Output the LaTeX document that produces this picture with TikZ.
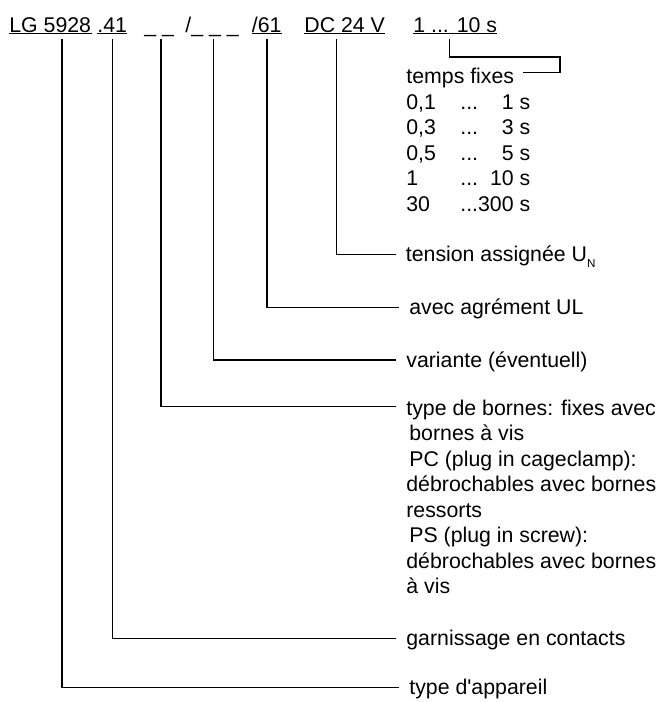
\documentclass[tikz,border=0pt]{standalone}
\usepackage{fontspec}
\setmainfont{Liberation Sans}

\begin{document}
\begin{tikzpicture}[
        x=0.5pt, y=-0.5pt,
        font=\fontsize{10.65pt}{12.75pt}\selectfont,
        code/.style={
            anchor=base west,
            inner xsep=0pt,
            inner ysep=3.5pt,
            text depth=0pt,
        },
        tag/.style={
            anchor=west,
            inner sep=0pt,
            text height=9pt,
            text depth=2pt,
        },
        block/.style={
            anchor=base west,
            inner sep=0pt,
        },
        wire/.style={
            line width=0.55pt,
        },
    ]

    \useasboundingbox (0,0) rectangle (659,702);

    % order code
    \node (LG) at (9,32) [code] {LG 5928};
    \node (n41) at (97,32) [code] {.41};
    \node (var1) at (144,32) [code] {\_ \_};
    \node (var2) at (185,32) [code] {/\_ \_ \_};
    \node (ul) at (251.5,32) [code] {/61\hspace{2.7pt}};
    \node (dc) at (304,32) [code] {DC 24 V};
    \node (tm) at (413,32) [code] {1 ... 10 s};

    \draw [wire] ([yshift=-0.8pt]LG.base west) -- ([yshift=-0.8pt]LG.base east);
    \draw [wire] ([yshift=-0.8pt]n41.base west) -- ([yshift=-0.8pt]n41.base east);
    \draw [wire] ([yshift=-0.8pt]ul.base west) -- ([yshift=-0.8pt]ul.base east);
    \draw [wire] ([yshift=-0.8pt]dc.base west) -- ([yshift=-0.8pt]dc.base east);
    \draw [wire] ([yshift=-0.8pt]tm.base west) -- ([yshift=-0.8pt]tm.base east);

    % explanations
    \node (fix) at (406,83.5) [block] {temps fixes};
    \node (range) at (406,109) [block] {\begin{tabular}[t]{@{}p{27pt}@{}l@{\hspace{1.8pt}}r@{}}
        0,1 & ... & 1 s\\
        0,3 & ... & 3 s\\
        0,5 & ... & 5 s\\
        1 & ... & 10 s\\
        30 & \multicolumn{2}{@{}l@{}}{...300 s}
    \end{tabular}};
    \node (volt) at (405.5,254.3) [tag] {tension assignée U\raisebox{-3pt}{\fontsize{5.8pt}{7pt}\selectfont N}};
    \node (ulab) at (409,307.7) [tag] {avec agrément UL};
    \node (vari) at (406,360) [tag] {variante (éventuell)};
    \node (term) at (406,415) [block] {\begin{tabular}[t]{@{}l@{}}
        type de bornes: fixes avec\\
        \hspace{1.5pt}bornes à vis\\
        \hspace{1.5pt}PC (plug in cageclamp):\\
        débrochables avec bornes\\
        ressorts\\
        \hspace{1.5pt}PS (plug in screw):\\
        débrochables avec bornes\\
        à vis
    \end{tabular}};
    \node (cont) at (406,638.7) [tag] {garnissage en contacts};
    \node (kind) at (409,687.7) [tag] {type d\textquotesingle appareil};

    \coordinate (kT) at (560,57);

    \draw [wire] (tm.south -| 449.3,0) |- (kT) |- ([shift={(8,-11)}]fix.base east);
    \draw [wire] (dc.south -| 336.7,0) |- ([xshift=-5pt]volt.west);
    \draw [wire] (ul.south -| 267,0) |- ([xshift=-5pt]ulab.west);
    \draw [wire] (var2.south -| 213.7,0) |- ([xshift=-5pt]vari.west);
    \draw [wire] (var1.south -| 161,0) |- ([shift={(-10,-8.5)}]term.base west);
    \draw [wire] (n41.south -| 112.7,0) |- ([xshift=-5pt]cont.west);
    \draw [wire] (LG.south -| 62,0) |- ([xshift=-5pt]kind.west);

\end{tikzpicture}
\end{document}
